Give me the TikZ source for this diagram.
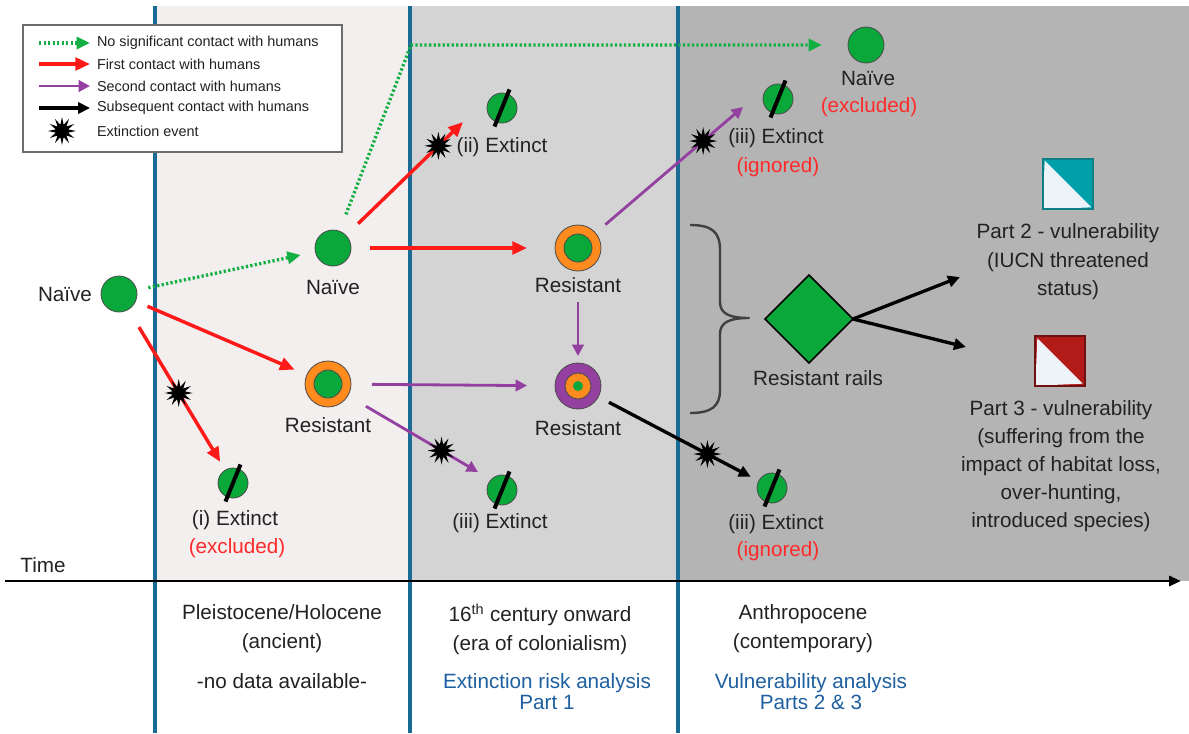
\documentclass[tikz,border=0pt]{standalone}
\usepackage{fontspec}
\setmainfont{Liberation Sans}
\usetikzlibrary{arrows.meta,shapes.geometric}

\definecolor{ink}{HTML}{222222}
\definecolor{rim}{HTML}{4A4A4A}
\definecolor{grn}{HTML}{0AA83B}
\definecolor{dotgrn}{HTML}{12B043}
\definecolor{orng}{HTML}{FF8A1D}
\definecolor{purp}{HTML}{9440A0}
\definecolor{redc}{HTML}{FF1A1A}
\definecolor{redtxt}{HTML}{FF2A2A}
\definecolor{bandA}{HTML}{F2EFEE}
\definecolor{bandB}{HTML}{D4D4D4}
\definecolor{bandC}{HTML}{B4B4B4}
\definecolor{eraline}{HTML}{1A6A96}
\definecolor{bluetext}{HTML}{1E5FA0}
\definecolor{tealf}{HTML}{00A0A8}
\definecolor{teald}{HTML}{0B7F86}
\definecolor{darkredf}{HTML}{B31B18}
\definecolor{darkredd}{HTML}{701010}
\definecolor{iconwhite}{HTML}{EEF3FA}
\definecolor{bracec}{HTML}{404040}

\newcommand\lblfont{\fontsize{15.5}{21}\selectfont}
\newcommand\legfont{\fontsize{10.8}{13}\selectfont}

\begin{document}
\begin{tikzpicture}[x=0.75pt,y=-0.75pt,
  every node/.style={inner sep=0pt, outer sep=0pt, text=ink, font=\lblfont},
  naive/.style={circle, draw=rim, line width=0.6pt, fill=grn, minimum size=27pt},
  ring/.style={circle, draw=rim, line width=0.6pt, fill=orng, minimum size=34.5pt},
  purplering/.style={circle, draw=rim, line width=0.6pt, fill=purp, minimum size=34.5pt},
  core/.style={circle, draw=rim, line width=0.6pt, fill=grn, minimum size=21pt},
  gone/.style={circle, draw=rim, line width=0.6pt, fill=grn, minimum size=22.5pt},
  burst/.style={star, star points=12, star point ratio=2.2, fill=black, minimum size=21pt},
  slash/.style={line width=3pt, black},
  nocontact/.style={draw=dotgrn, line width=2.5pt, dash pattern=on 1.7pt off 1.7pt, -{Triangle[length=10pt,width=9pt]}},
  firstc/.style={draw=redc, line width=2.6pt, -{Triangle[length=11pt,width=9.5pt]}},
  secondc/.style={draw=purp, line width=2.1pt, -{Triangle[length=8.5pt,width=8.5pt]}},
  latercon/.style={draw=black, line width=2.5pt, -{Triangle[length=9pt,width=8.5pt]}},
  redlabel/.style={text=redtxt},
  legtext/.style={font=\legfont, anchor=west},
  bluetxt/.style={text=bluetext, align=center, font=\fontsize{15.5}{15.75}\selectfont},
  blacktxt/.style={align=center, font=\fontsize{15.5}{21.75}\selectfont},
  icon/.style={rectangle, minimum size=#1, line width=1.5pt}
]
\useasboundingbox (0,0) rectangle (1189,733);

% era bands
\fill[bandA] (155,6) rectangle (410,581);
\fill[bandB] (410,6) rectangle (678,581);
\fill[bandC] (678,6) rectangle (1189,581);
\foreach \xx in {155,410,678} \draw[eraline, line width=2.4pt] (\xx,6) -- (\xx,733);

% time axis
\coordinate (tstart) at (5,581);
\coordinate (tend) at (1181,581);
\draw[black, line width=2.2pt, -{Triangle[length=9pt,width=7.5pt]}] (tstart) -- (tend);
\node (timelbl) at (43,565) {Time};

% legend
\node[draw=gray!85!black, fill=white, line width=0.9pt, minimum width=239.25pt, minimum height=95.25pt] (legend) at (182.5,88.5) {};
\coordinate (lg1a) at (39,43); \coordinate (lg1b) at (90,43);
\coordinate (lg2a) at (39,64); \coordinate (lg2b) at (90,64);
\coordinate (lg3a) at (39,86); \coordinate (lg3b) at (90,86);
\coordinate (lg4a) at (39,108); \coordinate (lg4b) at (90,108);
\draw[nocontact] (lg1a) -- (lg1b);
\draw[firstc] (lg2a) -- (lg2b);
\draw[secondc] (lg3a) -- (lg3b);
\draw[latercon] (lg4a) -- (lg4b);
\node[burst] (lgstar) at (62,131) {};
\node[legtext] (lgt1) at (97,43) {No significant contact with humans};
\node[legtext] (lgt2) at (97,64) {First contact with humans};
\node[legtext] (lgt3) at (97,86) {Second contact with humans};
\node[legtext] (lgt4) at (97,108) {Subsequent contact with humans};
\node[legtext] (lgt5) at (97,131) {Extinction event};

% populations
\node[naive] (n0) at (119,294) {};
\node (n0lbl) at (65,294) {Naïve};
\node[naive] (n1) at (333,248) {};
\node (n1lbl) at (333,287) {Naïve};
\node[naive] (n2) at (866,45) {};
\node (n2lbl) at (868,78) {Naïve};
\node[redlabel] (n2note) at (869,107) {(excluded)};

\node[ring] (r1) at (328,384) {};
\node[core] (r1c) at (r1) {};
\node (r1lbl) at (328,425) {Resistant};
\node[ring] (r2) at (578,248) {};
\node[core] (r2c) at (r2) {};
\node (r2lbl) at (578,285) {Resistant};
\node[purplering] (r3) at (578,386) {};
\node[circle, draw=rim, line width=0.6pt, fill=orng, minimum size=19.5pt] (r3m) at (r3) {};
\node[circle, fill=grn, minimum size=7.5pt] (r3c) at (r3) {};
\node (r3lbl) at (578,428) {Resistant};

% extinct species
\node[gone] (e1) at (233,483) {};
\node[gone] (e2) at (502,108) {};
\node[gone] (e3) at (502,490) {};
\node[gone] (e4) at (778,99) {};
\node[gone] (e5) at (772,488) {};
\foreach \e in {e1,e2,e3,e4,e5} \draw[slash] (\e) ++(-68:20) -- ++(112:40);
\node (e1lbl) at (235,520) {(i) Extinct};
\node[redlabel] (e1note) at (237,548) {(excluded)};
\node (e2lbl) at (502,147) {(ii) Extinct};
\node (e3lbl) at (500,523) {(iii) Extinct};
\node (e4lbl) at (776,138) {(iii) Extinct};
\node[redlabel] (e4note) at (778,167) {(ignored)};
\node (e5lbl) at (776,524) {(iii) Extinct};
\node[redlabel] (e5note) at (778,551) {(ignored)};

% arrow ends that stop short of their target
\coordinate (bend) at (411,45);
\coordinate (e2in) at (463,122);
\coordinate (e3in) at (478,472);
\coordinate (e4in) at (743,107);

% contacts with humans
\draw[nocontact, shorten <=9pt, shorten >=11.25pt] (n0) -- (n1);
\draw[nocontact, shorten <=13.5pt, shorten >=19.5pt] (n1) -- (bend) -- (n2);
\draw[firstc, shorten <=9.75pt, shorten >=10pt] (n0) -- (r1);
\draw[firstc, shorten <=15.5pt, shorten >=7.3pt] (n0) -- node[burst, pos=0.52] (x1) {} (e1);
\draw[firstc, shorten <=12.75pt] (n1) -- node[burst, pos=0.79] (x2) {} (e2in);
\draw[firstc, shorten <=14.25pt, shorten >=21pt] (n1) -- (r2);
\draw[secondc, shorten <=15.75pt, shorten >=21pt] (r1) -- (r3);
\draw[secondc, shorten <=15.75pt] (r1) -- node[burst, pos=0.72] (x3) {} (e3in);
\draw[secondc, shorten <=23.25pt, shorten >=5.25pt] (r2) -- (r3);
\draw[secondc, shorten <=9.75pt] (r2) -- node[burst, pos=0.73] (x4) {} (e4in);
\draw[latercon, shorten <=9pt, shorten >=6.75pt] (r3) -- node[burst, pos=0.68] (x5) {} (e5);

% brace grouping the resistant populations
\draw[bracec, line width=1.8pt, line join=round]
  (690,225) .. controls (712,225) and (720,232) .. (720,250) -- (720,302)
  .. controls (720,314) and (730,318) .. (749,318)
  .. controls (730,318) and (720,322) .. (720,334) -- (720,390)
  .. controls (720,406) and (712,413) .. (690,413);

% resistant rails and the two vulnerability analyses
\node[diamond, shape aspect=1, minimum size=66pt, fill=grn, draw=black, line width=1.2pt] (dm) at (809,319) {};
\node (dmlbl) at (818,378) {Resistant rails};
\coordinate (p2in) at (960,277);
\coordinate (p3in) at (966,347);
\draw[latercon] (dm.east) -- (p2in);
\draw[latercon] (dm.east) -- (p3in);

\node[icon=38pt, fill=tealf, draw=teald,
  path picture={\fill[iconwhite] ([shift={(1.5pt,-1.5pt)}]path picture bounding box.north west) -- ([shift={(-1.5pt,1.5pt)}]path picture bounding box.south east) -- (path picture bounding box.south west) -- cycle;}] (p2) at (1068,184) {};
\node[align=center, font=\fontsize{15.5}{21.4}\selectfont] (p2lbl) at (1068,262) {Part 2 - vulnerability\\(IUCN threatened\\status)};
\node[icon=37pt, fill=darkredf, draw=darkredd,
  path picture={\fill[iconwhite] ([shift={(1.5pt,-1.5pt)}]path picture bounding box.north west) -- ([shift={(-1.5pt,1.5pt)}]path picture bounding box.south east) -- (path picture bounding box.south west) -- cycle;}] (p3) at (1060,361) {};
\node[align=center, font=\fontsize{15.5}{21}\selectfont] (p3lbl) at (1061,466) {Part 3 - vulnerability\\(suffering from the\\impact of habitat loss,\\over-hunting,\\introduced species)};

% era captions
\node[blacktxt] (eraA) at (282,629) {Pleistocene/Holocene\\(ancient)};
\node (eraAnote) at (282,681) {-no data available-};
\node[blacktxt] (eraB) at (540,629) {16\textsuperscript{th} century onward\\(era of colonialism)};
\node[bluetxt] (eraBnote) at (547,692) {Extinction risk analysis\\Part 1};
\node[blacktxt] (eraC) at (803,629) {Anthropocene\\(contemporary)};
\node[bluetxt] (eraCnote) at (811,692) {Vulnerability analysis\\Parts 2 \& 3};
\end{tikzpicture}
\end{document}
